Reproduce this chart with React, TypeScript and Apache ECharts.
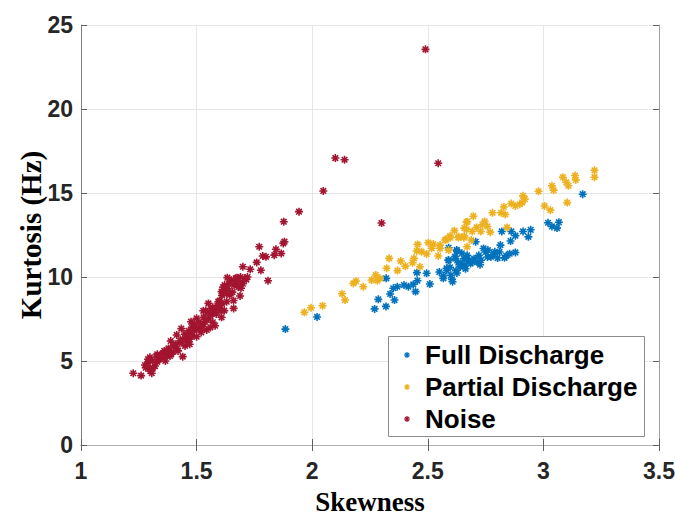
import React, { useEffect, useRef } from "react";
import * as echarts from "echarts";

const seriesNames = ["Full Discharge", "Partial Discharge", "Noise"];
const seriesColors = ["#0072BD", "#EDB120", "#A2142F"];

const xTicks = [1, 1.5, 2, 2.5, 3, 3.5];
const yTicks = [0, 5, 10, 15, 20, 25];

const fullDischarge: number[][] = [
  [1.884, 6.9], [2.021, 7.62], [2.27, 8.1], [2.286, 8.67], [2.319, 8.25], [2.356, 8.63],
  [2.337, 8.99], [2.351, 9.33], [2.368, 9.42], [2.397, 9.52], [2.416, 9.42], [2.447, 9.13],
  [2.437, 9.56], [2.455, 9.78], [2.32, 9.92], [2.453, 10.26], [2.495, 10.22], [2.509, 9.58],
  [2.567, 10.06], [2.605, 9.86], [2.581, 10.52], [2.596, 10.58], [2.622, 10.38], [2.589, 11.01],
  [2.618, 11.21], [2.625, 11.61], [2.647, 11.41], [2.632, 10.85], [2.661, 10.71], [2.668, 11.11],
  [2.59, 11.74], [2.567, 9.92], [2.607, 9.72], [2.582, 10.39], [2.626, 10.24], [2.59, 10.99],
  [2.626, 11.54], [2.619, 11.09], [2.641, 10.79], [2.663, 10.49], [2.656, 11.09], [2.678, 10.99],
  [2.692, 10.89], [2.67, 11.29], [2.7, 11.09], [2.714, 10.89], [2.726, 10.73], [2.707, 12.1],
  [2.721, 11.29], [2.741, 11.7], [2.751, 11.49], [2.758, 11.19], [2.773, 11.19], [2.787, 11.33],
  [2.802, 11.13], [2.81, 11.49], [2.814, 11.9], [2.82, 12.71], [2.861, 12.71], [2.858, 12.14],
  [2.879, 12.46], [2.839, 11.26], [2.854, 11.39], [2.879, 11.46], [2.832, 11.14], [2.912, 12.71],
  [2.945, 12.81], [2.935, 12.39], [3.02, 13.23], [3.037, 13.01], [3.059, 12.91], [3.067, 13.26],
  [3.17, 14.93], [2.6, 10.1], [2.64, 10.6], [2.685, 10.8], [2.73, 11.0], [2.76, 11.6],
  [2.79, 11.5], [2.55, 10.3],
];

const partialDischarge: number[][] = [
  [1.966, 7.9], [1.995, 8.17], [2.045, 8.29], [2.142, 8.63], [2.129, 9.0], [2.178, 9.62],
  [2.19, 9.76], [2.221, 9.42], [2.257, 9.82], [2.275, 10.12], [2.282, 9.78], [2.293, 9.92],
  [2.322, 10.52], [2.333, 11.11], [2.369, 10.38], [2.383, 10.95], [2.403, 10.65], [2.434, 10.85],
  [2.44, 11.11], [2.466, 10.61], [2.452, 11.55], [2.473, 11.51], [2.495, 11.37], [2.456, 11.94],
  [2.502, 12.04], [2.524, 11.96], [2.517, 11.71], [2.545, 11.25], [2.553, 11.9], [2.579, 12.24],
  [2.596, 12.44], [2.615, 12.76], [2.632, 12.35], [2.658, 12.44], [2.668, 12.84], [2.671, 13.29],
  [2.553, 11.7], [2.59, 11.6], [2.575, 12.2], [2.597, 12.34], [2.634, 12.4], [2.656, 12.34],
  [2.658, 12.91], [2.667, 13.27], [2.67, 11.8], [2.688, 12.2], [2.697, 13.62], [2.692, 12.71],
  [2.711, 12.95], [2.729, 12.71], [2.746, 13.31], [2.758, 13.01], [2.77, 12.67], [2.736, 13.11],
  [2.78, 13.82], [2.817, 13.82], [2.835, 13.72], [2.843, 12.95], [2.829, 14.17], [2.861, 14.37],
  [2.879, 14.23], [2.898, 14.33], [2.912, 14.83], [2.908, 14.43], [2.92, 14.63], [2.979, 15.1],
  [3.005, 14.23], [3.03, 13.98], [3.037, 15.43], [3.044, 15.17], [3.084, 15.94], [3.099, 15.64],
  [3.103, 14.43], [3.108, 15.43], [3.137, 16.04], [3.14, 15.78], [3.221, 16.35], [3.221, 15.94],
];

const noise: number[][] = [
  [2.49, 23.55], [2.1, 17.08], [2.14, 16.98], [2.545, 16.77], [2.048, 15.12], [1.943, 13.89],
  [2.3, 13.21], [1.877, 13.29], [1.875, 12.0], [1.88, 12.1], [1.843, 11.65], [1.836, 11.3],
  [1.866, 11.4], [1.771, 11.8], [1.786, 11.25], [1.8, 11.2], [1.76, 10.87], [1.7, 10.61],
  [1.732, 10.46], [1.778, 10.4], [1.809, 9.78], [1.708, 9.92], [1.715, 9.85], [1.669, 9.92],
  [1.633, 9.96], [1.621, 9.52], [1.662, 9.52], [1.692, 9.33], [1.608, 9.13], [1.644, 8.93],
  [1.688, 8.87], [1.551, 8.43], [1.594, 8.53], [1.63, 8.53], [1.66, 8.13], [1.598, 8.13],
  [1.529, 7.99], [1.569, 7.84], [1.608, 7.6], [1.5, 7.54], [1.476, 7.34], [1.536, 7.34],
  [1.434, 6.93], [1.493, 7.04], [1.544, 6.85], [1.471, 6.69], [1.414, 6.55], [1.457, 6.35],
  [1.5, 6.45], [1.388, 6.19], [1.428, 6.09], [1.378, 5.75], [1.414, 5.75], [1.44, 5.26],
  [1.4, 5.55], [1.356, 5.46], [1.327, 5.3], [1.298, 5.22], [1.277, 4.76], [1.298, 4.56],
  [1.306, 4.27], [1.26, 4.13], [1.226, 4.27], [1.385, 5.3], [1.29, 4.9], [1.31, 5.0],
  [1.32, 4.7], [1.3, 4.4], [1.34, 5.1], [1.35, 5.2], [1.37, 5.3], [1.39, 5.4],
  [1.42, 5.6], [1.45, 5.9], [1.46, 6.1], [1.47, 6.3], [1.48, 6.5], [1.49, 6.8],
  [1.51, 6.9], [1.52, 7.1], [1.53, 7.2], [1.55, 7.5], [1.56, 7.7], [1.57, 7.3],
  [1.58, 8.0], [1.59, 8.3], [1.6, 8.6], [1.61, 8.9], [1.62, 9.2], [1.63, 9.0],
  [1.64, 9.6], [1.65, 9.8], [1.67, 9.6], [1.68, 9.4], [1.69, 10.0], [1.72, 10.0],
  [1.53, 7.6], [1.48, 7.0], [1.44, 6.3], [1.41, 6.0], [1.36, 5.6], [1.33, 5.4],
  [1.47, 6.0], [1.52, 6.7], [1.56, 7.0], [1.58, 7.1], [1.62, 8.0], [1.66, 8.6],
  [1.7, 9.6], [1.54, 8.0], [1.57, 8.2], [1.61, 8.4], [1.28, 4.6], [1.29, 5.1],
  [1.31, 4.55], [1.33, 4.95], [1.345, 5.35], [1.365, 5.0], [1.38, 5.55], [1.4, 5.9],
  [1.43, 6.2], [1.45, 6.6], [1.465, 6.8], [1.49, 7.2], [1.51, 7.3], [1.525, 6.9],
  [1.545, 7.9], [1.565, 8.1], [1.585, 7.8], [1.605, 8.0], [1.615, 9.4], [1.635, 9.3],
  [1.655, 9.1], [1.675, 9.95], [1.69, 9.7],
];

const seriesData = [fullDischarge, partialDischarge, noise];

const ASTERISK =
  "path://M8 0L12 0L12 20L8 20Z M0 8L20 8L20 12L0 12Z M4.4 1.6L18.4 15.6L15.6 18.4L1.6 4.4Z M18.4 4.4L4.4 18.4L1.6 15.6L15.6 1.6Z";

const tickFont = {
  fontFamily: "Liberation Sans, Arial, sans-serif",
  fontWeight: "bold" as const,
  fontSize: 23,
  color: "#262626",
};
const xTitleFont = {
  fontFamily: "Liberation Serif, Times New Roman, serif",
  fontWeight: "bold" as const,
  fontSize: 27,
  color: "#000000",
};
const yTitleFont = { ...xTitleFont, fontSize: 29 };

export default function App() {
  const ref = useRef<HTMLDivElement>(null);

  useEffect(() => {
    if (!ref.current) return;
    const chart = echarts.init(ref.current, undefined, { renderer: "svg" });
    const xMin = xTicks[0];
    const xMax = xTicks[xTicks.length - 1];
    const xInt = xTicks[1] - xTicks[0];
    const yMin = yTicks[0];
    const yMax = yTicks[yTicks.length - 1];
    const yInt = yTicks[1] - yTicks[0];

    const baseX = { type: "value" as const, min: xMin, max: xMax, interval: xInt };
    const baseY = { type: "value" as const, min: yMin, max: yMax, interval: yInt };

    chart.setOption({
      animation: false,
      backgroundColor: "#ffffff",
      grid: {
        left: 81,
        right: 16,
        top: 25,
        bottom: 71,
        containLabel: false,
        outerBoundsMode: "none",
      },
      xAxis: [
        {
          ...baseX,
          position: "bottom",
          name: "Skewness",
          nameLocation: "middle",
          nameGap: 43,
          nameMoveOverlap: false,
          nameTextStyle: xTitleFont,
          axisLine: { show: true, lineStyle: { color: "#808080", width: 1 } },
          axisTick: { show: true, inside: true, length: 6, lineStyle: { color: "#606060" } },
          axisLabel: { ...tickFont, margin: 14 },
          splitLine: { show: true, lineStyle: { color: "#e6e6e6", width: 1 } },
        },
        {
          ...baseX,
          position: "top",
          axisLine: { show: true, lineStyle: { color: "#b0b0b0", width: 1 } },
          axisTick: { show: true, inside: true, length: 6, lineStyle: { color: "#606060" } },
          axisLabel: { show: false },
          splitLine: { show: false },
        },
      ],
      yAxis: [
        {
          ...baseY,
          position: "left",
          name: "Kurtosis (Hz)",
          nameLocation: "middle",
          nameGap: 36,
          nameMoveOverlap: false,
          nameTextStyle: yTitleFont,
          axisLine: { show: true, lineStyle: { color: "#808080", width: 1 } },
          axisTick: { show: true, inside: true, length: 6, lineStyle: { color: "#606060" } },
          axisLabel: { ...tickFont, margin: 8 },
          splitLine: { show: true, lineStyle: { color: "#e6e6e6", width: 1 } },
        },
        {
          ...baseY,
          position: "right",
          axisLine: { show: true, lineStyle: { color: "#a0a0a0", width: 1 } },
          axisTick: { show: true, inside: true, length: 6, lineStyle: { color: "#606060" } },
          axisLabel: { show: false },
          splitLine: { show: false },
        },
      ],
      graphic: [
        {
          type: "rect",
          z: 3,
          shape: { x: 388.5, y: 336.5, width: 256, height: 100 },
          style: { fill: "#ffffff", stroke: "#8c8c8c", lineWidth: 1 },
        },
      ],
      legend: {
        orient: "vertical",
        left: 404,
        top: 342,
        itemWidth: 26,
        itemHeight: 6,
        itemGap: 6,
        padding: 0,
        selectedMode: false,
        z: 5,
        textStyle: {
          fontFamily: "Liberation Sans, Arial, sans-serif",
          fontWeight: "bold",
          fontSize: 26,
          color: "#000000",
        },
        data: seriesNames.map((n) => ({ name: n, icon: ASTERISK })),
      },
      series: seriesNames.map((name, i) => ({
        name,
        type: "scatter",
        xAxisIndex: 0,
        yAxisIndex: 0,
        symbol: ASTERISK,
        symbolSize: 8,
        itemStyle: { color: seriesColors[i], opacity: 1 },
        emphasis: { disabled: true },
        data: seriesData[i],
      })),
    });

    return () => {
      chart.dispose();
    };
  }, []);

  return (
    <div
      ref={ref}
      style={{ position: "absolute", left: 0, top: 0, width: 675, height: 516 }}
    />
  );
}
